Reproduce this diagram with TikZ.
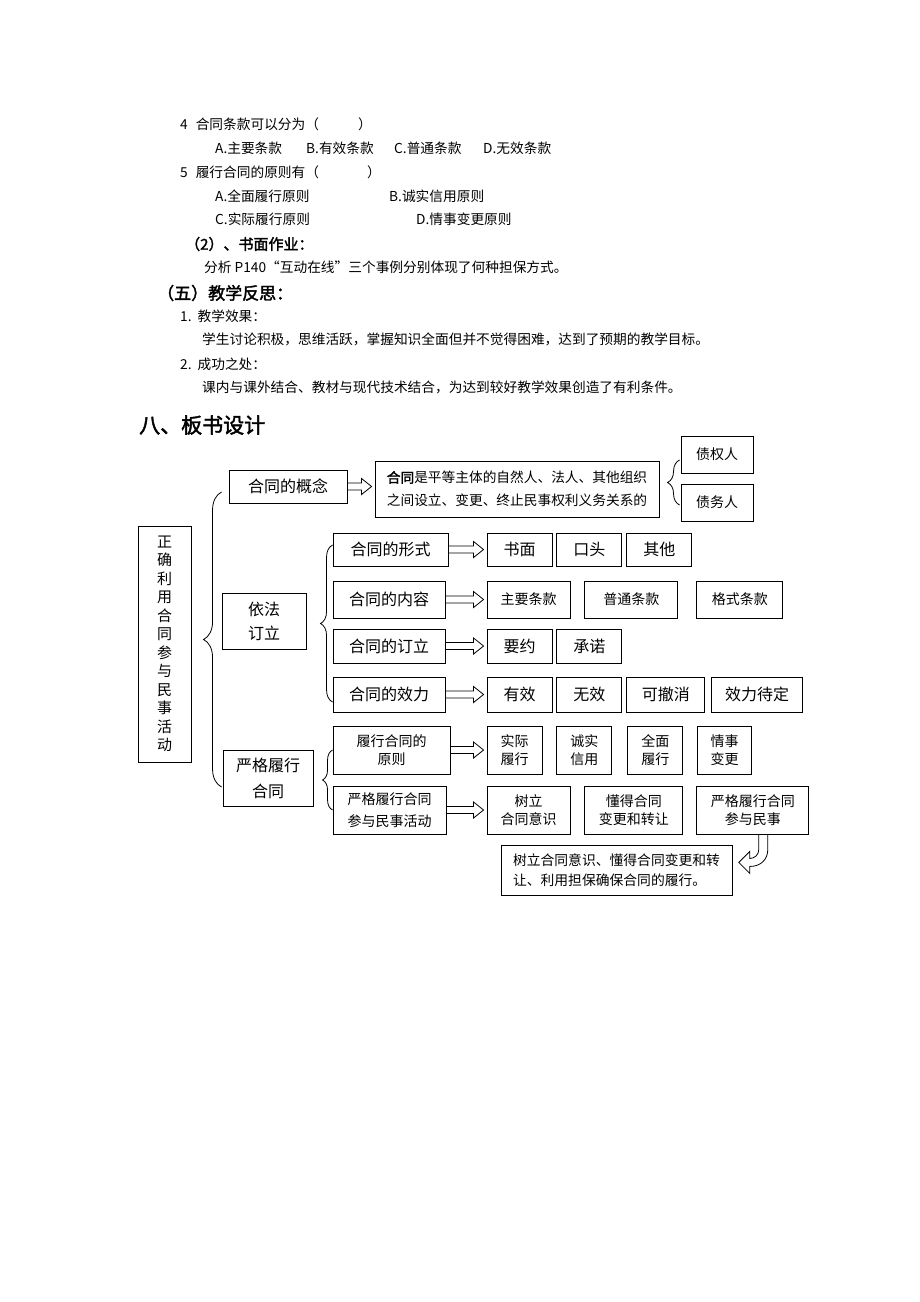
\documentclass[tikz,border=0pt]{standalone}
\usepackage{fontspec}
\setmainfont{Noto Sans CJK SC}[AutoFakeBold=2]
\usetikzlibrary{positioning,calc,decorations.pathreplacing}

\tikzset{
  box/.style={draw, line width=0.9pt, inner sep=0pt, align=center,
    font=\fontsize{16}{24}\selectfont},
  smallbox/.style={box, font=\fontsize{14}{18}\selectfont},
  txt/.style={anchor=west, inner sep=0pt, font=\fontsize{13.7}{16}\selectfont},
  brc/.style={decorate, decoration={brace, amplitude=#1}, line width=0.8pt},
  blockarrow/.style={line width=0.8pt,
    to path={let \p1=(\tikztostart), \p2=(\tikztotarget) in
      (\x1,\y1+3.5pt) -- (\x2-13pt,\y1+3.5pt) -- (\x2-13pt,\y1+8pt) -- (\x2-3pt,\y1)
      -- (\x2-13pt,\y1-8pt) -- (\x2-13pt,\y1-3.5pt) -- (\x1,\y1-3.5pt)}},
}

\begin{document}
\begin{tikzpicture}[x=1pt, y=-1pt]
\useasboundingbox[fill=white] (0,0) rectangle (920,1302);

% exercises and reflection
\node[txt] (q4)  at (180,124) {4\hspace{8pt}合同条款可以分为（\hspace{39pt}）};
\node[txt] (q4a) at (215,148) {A.主要条款};
\node[txt] (q4b) at (306,148) {B.有效条款};
\node[txt] (q4c) at (394,148) {C.普通条款};
\node[txt] (q4d) at (483,148) {D.无效条款};
\node[txt] (q5)  at (180,172) {5\hspace{8pt}履行合同的原则有（\hspace{48pt}）};
\node[txt] (q5a) at (215,196) {A.全面履行原则};
\node[txt] (q5b) at (389,196) {B.诚实信用原则};
\node[txt] (q5c) at (215,219) {C.实际履行原则};
\node[txt] (q5d) at (416,219) {D.情事变更原则};
\node[txt, font=\fontsize{15}{18}\selectfont\bfseries] (zuoye) at (185,244) {（2）、书面作业：};
\node[txt] (zuoyet) at (204,267) {分析 P140“互动在线”三个事例分别体现了何种担保方式。};
\node[txt, font=\fontsize{17}{20}\selectfont\bfseries] (fansi) at (157,293) {（五）教学反思：};
\node[txt] (f1)  at (180,316) {1.\hspace{6pt}教学效果：};
\node[txt] (f1t) at (202,339) {学生讨论积极，思维活跃，掌握知识全面但并不觉得困难，达到了预期的教学目标。};
\node[txt] (f2)  at (180,364) {2.\hspace{6pt}成功之处：};
\node[txt] (f2t) at (202,387) {课内与课外结合、教材与现代技术结合，为达到较好教学效果创造了有利条件。};
\node[txt, font=\fontsize{21}{24}\selectfont\bfseries] (banshu) at (139,425) {八、板书设计};

% board design
\node[box, minimum width=53pt, minimum height=236pt, font=\fontsize{15}{18.5}\selectfont]
  (main) at (164.5,644) {正\\确\\利\\用\\合\\同\\参\\与\\民\\事\\活\\动};

\node[box, minimum width=118pt, minimum height=33pt] (gainian) at (288,486.5) {合同的概念};
\node[box, minimum width=284pt, minimum height=56pt, align=left,
  font=\fontsize{13.7}{23}\selectfont] (dingyi) at (517,489)
  {\textbf{合同}是平等主体的自然人、法人、其他组织\\之间设立、变更、终止民事权利义务关系的};
\node[smallbox, minimum width=72pt, minimum height=37pt] (zhaiquan) at (717,454.5) {债权人};
\node[smallbox, minimum width=72pt, minimum height=37pt] (zhaiwu)   at (717,502.5) {债务人};

\node[box, minimum width=84pt, minimum height=56pt] (yifa) at (264,621) {依法\\订立};
\node[box, minimum width=115pt, minimum height=33pt] (xingshi) at (390.5,549.5) {合同的形式};
\node[box, minimum width=65pt, minimum height=33pt] (shumian) at (519.5,549.5) {书面};
\node[box, minimum width=65pt, minimum height=33pt, right=4pt of shumian] (koutou) {口头};
\node[box, minimum width=65pt, minimum height=33pt, right=4pt of koutou] (qita) {其他};

\node[box, minimum width=112pt, minimum height=37pt] (neirong) at (389,599.5) {合同的内容};
\node[smallbox, minimum width=83pt, minimum height=37pt] (zhuyao) at (528.5,599.5) {主要条款};
\node[smallbox, minimum width=93pt, minimum height=37pt, right=14pt of zhuyao] (putong) {普通条款};
\node[smallbox, minimum width=86pt, minimum height=37pt, right=18pt of putong] (geshi) {格式条款};

\node[box, minimum width=112pt, minimum height=34pt] (dingli) at (389,646) {合同的订立};
\node[box, minimum width=65pt, minimum height=34pt] (yaoyue) at (519.5,646) {要约};
\node[box, minimum width=65pt, minimum height=34pt, right=4pt of yaoyue] (chengnuo) {承诺};

\node[box, minimum width=112pt, minimum height=35pt] (xiaoli) at (389,694.5) {合同的效力};
\node[box, minimum width=65pt, minimum height=35pt] (youxiao) at (519.5,694.5) {有效};
\node[box, minimum width=65pt, minimum height=35pt, right=4pt of youxiao] (wuxiao) {无效};
\node[box, minimum width=78pt, minimum height=35pt, right=4pt of wuxiao] (kechexiao) {可撤消};
\node[box, minimum width=91pt, minimum height=35pt, right=6pt of kechexiao] (daiding) {效力待定};

\node[box, minimum width=90pt, minimum height=56pt, font=\fontsize{16}{26}\selectfont] (lvxing) at (268,778) {严格履行\\合同};
\node[smallbox, minimum width=117pt, minimum height=48pt] (yuanze) at (391.5,750) {履行合同的\\原则};
\node[smallbox, minimum width=113pt, minimum height=48pt, font=\fontsize{14}{22}\selectfont] (canyu) at (389.5,810) {严格履行合同\\参与民事活动};
\node[smallbox, minimum width=55pt, minimum height=48pt] (shiji) at (514.5,750) {实际\\履行};
\node[smallbox, minimum width=55pt, minimum height=48pt, right=14pt of shiji] (chengshi) {诚实\\信用};
\node[smallbox, minimum width=55pt, minimum height=48pt, right=15pt of chengshi] (quanmian) {全面\\履行};
\node[smallbox, minimum width=54pt, minimum height=48pt, right=14pt of quanmian] (qingshi) {情事\\变更};
\node[smallbox, minimum width=83pt, minimum height=48pt] (shuli) at (528.5,810) {树立\\合同意识};
\node[smallbox, minimum width=98pt, minimum height=48pt, right=14pt of shuli] (dongde) {懂得合同\\变更和转让};
\node[smallbox, minimum width=112pt, minimum height=48pt, right=13pt of dongde] (minshi) {严格履行合同\\参与民事};
\node[smallbox, minimum width=231pt, minimum height=50pt, align=left,
  font=\fontsize{13.8}{20}\selectfont] (zongjie) at (616.5,870)
  {树立合同意识、懂得合同变更和转\\让、利用担保确保合同的履行。};

% braces
\draw[brc=18pt] ($(lvxing.west)+(-1,9)$) -- ($(gainian.west)+(-7,5.5)$);
\draw[brc=12pt] ($(xiaoli.west)+(0,7.5)$) -- ($(xingshi.west)+(0,-4.5)$);
\draw[brc=10pt] ($(canyu.west)+(0,0)$) -- ($(yuanze.west)+(0,0)$);
\draw[brc=12pt] ($(zhaiwu.west)+(-1,2.5)$) -- ($(zhaiquan.west)+(-1,5.5)$);

% arrows
\draw[blockarrow] (gainian.east) to (dingyi.west);
\draw[blockarrow] (xingshi.east) to (shumian.west);
\draw[blockarrow] (neirong.east) to (zhuyao.west);
\draw[blockarrow] (dingli.east) to (yaoyue.west);
\draw[blockarrow] (xiaoli.east) to (youxiao.west);
\draw[blockarrow] (yuanze.east) to (shiji.west);
\draw[blockarrow] (canyu.east) to (shuli.west);
\draw[line width=0.8pt, shift={(minshi.south)}] (6,0) -- (6,15)
  .. controls (6,21) and (1,24) .. (-3,24) -- (-3,17) -- (-14,28) -- (-3,39) -- (-3,32)
  .. controls (8,32) and (15,25) .. (15,15) -- (15,0);
\end{tikzpicture}
\end{document}
